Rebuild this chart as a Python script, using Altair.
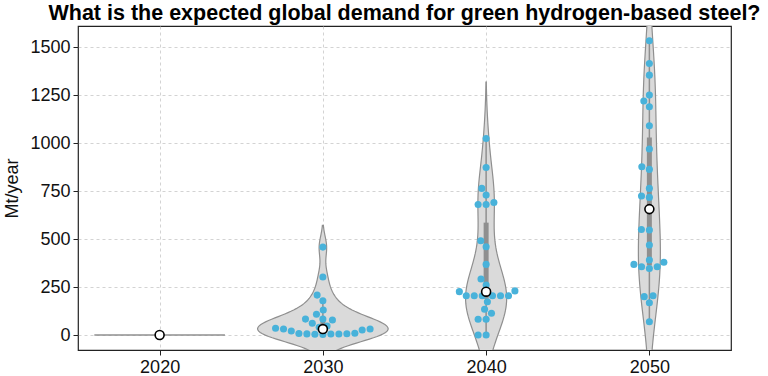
import altair as alt
import numpy as np
import pandas as pd

# ---- data ----
years = ["2020", "2030", "2040", "2050"]
v2020 = [0]
v2030 = [458, 302, 208, 179, 130, 108, 83, 78, 83, 61, 47, 40, 35,
         31, 31, 26, 21, 9, 8, 7, 6, 5, 5, 4, 3]
v2040 = [1024, 873, 764, 729, 690, 680, 680, 491, 460, 368, 292, 260, 230,
         226, 205, 205, 205, 205, 205, 205, 173, 134, 113, 82, 82, 0, 0]
v2050 = [1533, 1415, 1354, 1250, 1219, 1189, 1090, 969, 877, 863, 764, 724,
         717, 656, 550, 547, 469, 391, 379, 368, 356, 356, 347, 205, 200, 168, 69]
series = [v2020, v2030, v2040, v2050]

y_domain = [-78, 1610]
y_ticks = [0, 250, 500, 750, 1000, 1250, 1500]

PLOT_W, PLOT_H = 653, 324
BAND_PX = PLOT_W / len(years)
PX_PER_UNIT = PLOT_H / (y_domain[1] - y_domain[0])
POINT_D = 8.0

# ---- long table ----
rows = []
for i, vals in enumerate(series):
    for v in vals:
        rows.append({"year": years[i], "idx": i, "value": v})
long = pd.DataFrame(rows)

# ---- swarm offsets (beeswarm, in pixel space) ----
def swarm(vals):
    order = np.argsort(vals, kind="stable")
    placed = []
    offs = np.zeros(len(vals))
    for k in order:
        ypx = vals[k] * PX_PER_UNIT
        cands = [0.0]
        for (px, py) in placed:
            dy = abs(py - ypx)
            if dy < POINT_D:
                dx = np.sqrt(POINT_D ** 2 - dy ** 2)
                cands += [px + dx, px - dx]
        cands = sorted(cands, key=lambda c: (abs(c), c))
        for c in cands:
            ok = all((c - px) ** 2 + (ypx - py) ** 2 >= POINT_D ** 2 - 1e-6 for px, py in placed)
            if ok:
                break
        placed.append((c, ypx))
        offs[k] = c
    return offs

pts = []
for i, vals in enumerate(series):
    offs = swarm(np.asarray(vals, float))
    for v, o in zip(vals, offs):
        pts.append({"year": years[i], "idx": i, "value": v, "xpos": i + o / BAND_PX})
pts = pd.DataFrame(pts)

# ---- violin densities (gaussian KDE, Scott bandwidth, cut=2) ----
dens_rows = []
maxd = 0.0
kdes = {}
for i, vals in enumerate(series):
    v = np.asarray(vals, float)
    if len(v) < 2:
        continue
    n = len(v)
    bw = v.std(ddof=1) * n ** (-0.2)
    grid = np.linspace(v.min() - 2 * bw, v.max() + 2 * bw, 100)
    d = np.exp(-0.5 * ((grid[:, None] - v[None, :]) / bw) ** 2).sum(1) / (n * bw * np.sqrt(2 * np.pi))
    kdes[i] = (grid, d)
    maxd = max(maxd, d.max())
for i, (grid, d) in kdes.items():
    for g, dd in zip(grid, d):
        hw = dd / maxd * 0.4
        dens_rows.append({"year": years[i], "idx": i, "value": g, "left": i - hw, "right": i + hw})
dens = pd.DataFrame(dens_rows)

FONT = "Liberation Sans"
label_expr = "[" + ",".join(f"'{y}'" for y in years) + "][datum.value]"

x_scale = alt.Scale(domain=[-0.5, len(years) - 0.5], nice=False, zero=False)
y_scale = alt.Scale(domain=y_domain, nice=False, zero=False)
x_axis = alt.Axis(values=list(range(len(years))), labelExpr=label_expr, title=None)
y_axis = alt.Axis(values=y_ticks, title="Mt/year", format="d")

violin = alt.Chart(dens).mark_area(
    orient="horizontal", fill="#dadada", fillOpacity=1, stroke="#8f8f8f", strokeWidth=1.2, clip=True
).encode(
    y=alt.Y("value:Q", scale=y_scale, axis=y_axis),
    x=alt.X("left:Q", scale=x_scale, axis=x_axis, stack=None),
    x2="right:Q",
    detail="year:N",
)

single = alt.Chart(long).transform_joinaggregate(
    n="count()", groupby=["year"]
).transform_filter("datum.n == 1").transform_calculate(
    l="datum.idx - 0.4", r="datum.idx + 0.4"
).mark_rule(color="#8f8f8f", strokeWidth=1.5).encode(
    y=alt.Y("value:Q", scale=y_scale),
    x=alt.X("l:Q", scale=x_scale),
    x2="r:Q",
)

stats = alt.Chart(long).transform_joinaggregate(
    q1="q1(value)", q3="q3(value)", groupby=["year"]
).transform_calculate(
    lo="datum.q1 - 1.5 * (datum.q3 - datum.q1)",
    hi="datum.q3 + 1.5 * (datum.q3 - datum.q1)",
).transform_filter(
    "datum.value >= datum.lo && datum.value <= datum.hi"
).transform_aggregate(
    wmin="min(value)", wmax="max(value)", bq1="q1(value)", bq3="q3(value)",
    med="median(value)", groupby=["year", "idx"]
)

whisker = stats.mark_rule(color="#8f8f8f", strokeWidth=1.5).encode(
    x=alt.X("idx:Q", scale=x_scale), y=alt.Y("wmin:Q", scale=y_scale), y2="wmax:Q"
)
box = stats.mark_rule(color="#8f8f8f", strokeWidth=5).encode(
    x=alt.X("idx:Q", scale=x_scale), y=alt.Y("bq1:Q", scale=y_scale), y2="bq3:Q"
)

points = alt.Chart(pts).mark_circle(size=50, opacity=1, color="#48b2da").encode(
    x=alt.X("xpos:Q", scale=x_scale), y=alt.Y("value:Q", scale=y_scale)
)

median = stats.mark_point(
    shape="circle", size=80, filled=True, fill="white", stroke="black", strokeWidth=1.6, opacity=1
).encode(
    x=alt.X("idx:Q", scale=x_scale), y=alt.Y("med:Q", scale=y_scale)
)

chart = alt.layer(violin, single, whisker, box, points, median).properties(
    width=PLOT_W,
    height=PLOT_H,
    title=alt.TitleParams(
        "What is the expected global demand for green hydrogen-based steel?",
        anchor="middle", fontSize=21.5, fontWeight="bold", font=FONT, color="black", offset=2,
    ),
    autosize=alt.AutoSizeParams(type="none"),
    padding={"left": 78, "top": 26, "right": 37, "bottom": 26},
).configure_view(
    stroke="#222222", strokeWidth=1.2
).configure_axis(
    labelFont=FONT, labelFontSize=18, labelColor="#111111",
    titleFont=FONT, titleFontSize=18, titleFontWeight="normal", titleColor="#111111",
    grid=True, gridColor="#c8c8c8", gridDash=[3, 3], gridWidth=0.8,
    domain=False, tickColor="#222222", tickSize=5, tickWidth=1, labelPadding=3,
).configure_axisY(titlePadding=8)

chart.save("out.html", embed_options={"renderer": "svg", "actions": False})
